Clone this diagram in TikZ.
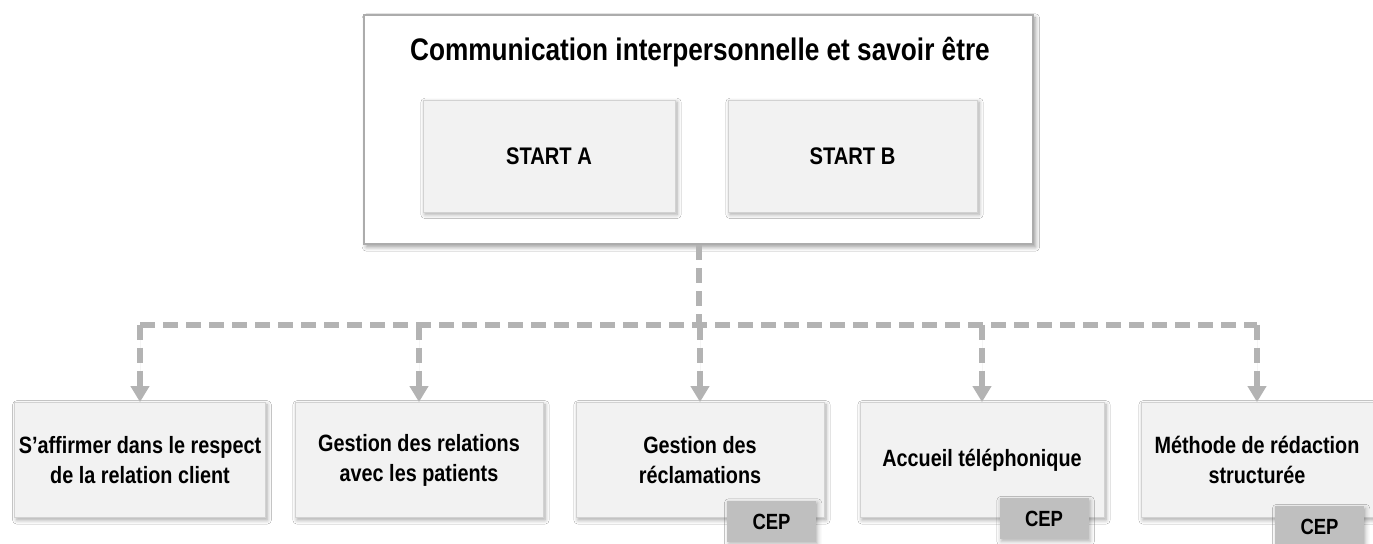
\documentclass[tikz,border=0pt]{standalone}
\usepackage{fontspec}
\setmainfont{Liberation Sans}[FakeStretch=0.84]
\usetikzlibrary{arrows.meta,shadows.blur}

\definecolor{boxgray}{HTML}{F2F2F2}
\definecolor{linkgray}{HTML}{B3B3B3}
\definecolor{cepgray}{HTML}{BFBFBF}

\begin{document}
\begin{tikzpicture}[x=0.5pt, y=-0.5pt, >={Triangle[width=9pt,length=8pt]}]
    \useasboundingbox[fill=white] (0,0) rectangle (1373,544);

    % --- ESTILOS ---
    \tikzset{
        module/.style={fill=boxgray, draw=gray!35, line width=0.4pt, align=center,
            minimum width=124pt, minimum height=57.5pt, inner sep=2pt,
            font=\bfseries\fontsize{11.8}{15}\selectfont,
            blur shadow={shadow xshift=1pt, shadow yshift=-1.2pt, shadow blur steps=6, shadow opacity=35}},
        start/.style={module, minimum width=126pt, minimum height=56pt,
            font=\bfseries\fontsize{12}{14}\selectfont},
        cep/.style={fill=cepgray, draw=none, minimum width=44.5pt, minimum height=20.5pt,
            inner sep=0pt, font=\bfseries\fontsize{11}{13}\selectfont,
            blur shadow={shadow xshift=0.8pt, shadow yshift=-1pt, shadow blur steps=4, shadow opacity=30}},
        link/.style={draw=linkgray, line width=3pt, dash pattern=on 7.5pt off 4pt}
    }

    % --- BLOQUE SUPERIOR ---
    \node[fill=white, draw=gray!65, line width=1.4pt, minimum width=334.5pt, minimum height=114.5pt,
        blur shadow={shadow xshift=1.2pt, shadow yshift=-1.5pt, shadow blur steps=6, shadow opacity=40}]
        (top) at (698.5,129.5) {};
    \node[font=\bfseries\fontsize{15.6}{18}\selectfont] (title) at (700,52)
        {Communication interpersonnelle et savoir être};
    \node[start] (startA) at (549,156) {START A};
    \node[start, minimum width=124.5pt] (startB) at (852.5,156) {START B};

    % --- MODULES ---
    \node[module] (b1) at (140,460) {S’affirmer dans le respect\\de la relation client};
    \node[module] (b2) at (419,460) {Gestion des relations\\avec les patients};
    \node[module] (b3) at (700,460) {Gestion des\\réclamations};
    \node[module, minimum width=122pt] (b4) at (982,460) {Accueil téléphonique};
    \node[module, minimum width=116pt] (b5) at (1257,460) {Méthode de rédaction\\structurée};

    % Etiquetas CEP
    \node[cep] (cep3) at (771.5,521.5) {CEP};
    \node[cep] (cep4) at (1044,519) {CEP};
    \node[cep] (cep5) at (1319.5,527) {CEP};

    % --- CONECTORES ---
    \coordinate (hub) at (699,325);
    \draw[link] (top.south -| hub) -- (hub);
    \draw[link] (b1.north |- hub) -- (b5.north |- hub);
    \foreach \b in {b1,b2,b3,b4,b5}
        \draw[link, ->, draw=linkgray, fill=linkgray] (\b.north |- hub) -- (\b.north);

\end{tikzpicture}
\end{document}
